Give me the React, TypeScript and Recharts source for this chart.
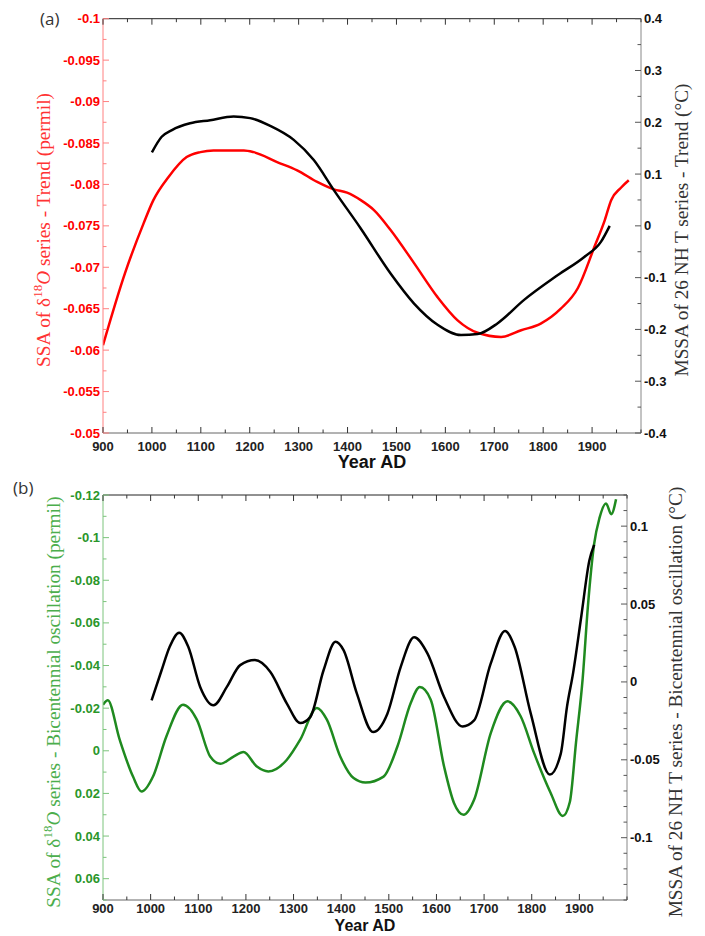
import React from 'react';
import { LineChart, Line, XAxis, YAxis } from 'recharts';

// (a) trend panel
const trendRedYears = [900, 945, 983, 1003, 1034, 1071, 1099, 1126, 1188, 1208, 1256, 1297, 1338, 1372, 1399, 1427, 1454, 1488, 1536, 1584, 1625, 1666, 1714, 1755, 1795, 1836, 1871, 1905, 1926, 1939, 1959, 1975];
const trendRedValues = [-0.0606, -0.0693, -0.0753, -0.0781, -0.0809, -0.0833, -0.0839, -0.0841, -0.0841, -0.0839, -0.0827, -0.0817, -0.0803, -0.0794, -0.079, -0.0781, -0.0769, -0.0745, -0.0705, -0.0664, -0.0636, -0.0621, -0.0616, -0.0624, -0.0632, -0.065, -0.0675, -0.0725, -0.0757, -0.0781, -0.0796, -0.0805];

const trendBlackYears = [1000, 1020, 1041, 1078, 1119, 1167, 1201, 1242, 1290, 1331, 1372, 1427, 1488, 1536, 1584, 1632, 1666, 1707, 1761, 1830, 1884, 1918, 1936];
const trendBlackValues = [0.142, 0.172, 0.185, 0.198, 0.204, 0.211, 0.208, 0.193, 0.166, 0.127, 0.069, -0.005, -0.092, -0.15, -0.191, -0.211, -0.209, -0.188, -0.143, -0.095, -0.06, -0.031, 0.0];

// (b) bicentennial oscillation panel
const osciGreenYears = [900, 910, 935, 963, 981, 1005, 1033, 1068, 1097, 1125, 1146, 1174, 1195, 1223, 1247, 1286, 1314, 1349, 1370, 1398, 1426, 1451, 1489, 1518, 1546, 1565, 1588, 1616, 1637, 1657, 1679, 1714, 1749, 1777, 1805, 1840, 1865, 1880, 1893, 1907, 1918, 1931, 1942, 1956, 1967, 1977];
const osciGreenValues = [-0.0216, -0.0237, -0.0052, 0.0121, 0.0191, 0.0121, -0.0067, -0.0216, -0.0146, 0.0027, 0.0061, 0.0027, 0.0006, 0.0074, 0.0097, 0.0042, -0.0052, -0.0201, -0.0146, 0.0027, 0.0128, 0.0149, 0.0121, -0.002, -0.0224, -0.0299, -0.024, 0.0074, 0.0246, 0.03, 0.023, -0.0083, -0.0232, -0.0161, 0.0011, 0.0199, 0.0306, 0.024, -0.004, -0.034, -0.068, -0.097, -0.109, -0.116, -0.111, -0.118];

const osciBlackYears = [1002, 1023, 1040, 1060, 1079, 1104, 1132, 1160, 1188, 1219, 1251, 1286, 1314, 1335, 1363, 1388, 1405, 1433, 1467, 1497, 1525, 1553, 1581, 1616, 1655, 1679, 1714, 1744, 1764, 1798, 1838, 1861, 1874, 1887, 1904, 1921, 1931];
const osciBlackValues = [-0.0118, 0.0075, 0.0226, 0.0316, 0.0226, -0.0032, -0.015, -0.0032, 0.0108, 0.014, 0.0065, -0.0139, -0.0264, -0.0226, 0.0075, 0.0258, 0.0204, -0.0075, -0.0322, -0.0204, 0.0097, 0.0286, 0.0183, -0.0097, -0.0286, -0.0247, 0.0119, 0.0327, 0.0226, -0.0204, -0.0595, -0.046, -0.016, 0.006, 0.042, 0.078, 0.088];

// ticks
const yearTicks = [900, 950, 1000, 1050, 1100, 1150, 1200, 1250, 1300, 1350, 1400, 1450, 1500, 1550, 1600, 1650, 1700, 1750, 1800, 1850, 1900, 1950, 2000];
const yearLabels = [900, 1000, 1100, 1200, 1300, 1400, 1500, 1600, 1700, 1800, 1900];

const trendLeftTicks = [-0.1, -0.0975, -0.095, -0.0925, -0.09, -0.0875, -0.085, -0.0825, -0.08, -0.0775, -0.075, -0.0725, -0.07, -0.0675, -0.065, -0.0625, -0.06, -0.0575, -0.055, -0.0525, -0.05];
const trendLeftLabels = [-0.1, -0.095, -0.09, -0.085, -0.08, -0.075, -0.07, -0.065, -0.06, -0.055, -0.05];
const trendRightTicks = [-0.4, -0.35, -0.3, -0.25, -0.2, -0.15, -0.1, -0.05, 0, 0.05, 0.1, 0.15, 0.2, 0.25, 0.3, 0.35, 0.4];
const trendRightLabels = [-0.4, -0.3, -0.2, -0.1, 0, 0.1, 0.2, 0.3, 0.4];

const osciLeftTicks = [-0.12, -0.11, -0.1, -0.09, -0.08, -0.07, -0.06, -0.05, -0.04, -0.03, -0.02, -0.01, 0, 0.01, 0.02, 0.03, 0.04, 0.05, 0.06, 0.07];
const osciLeftLabels = [-0.12, -0.1, -0.08, -0.06, -0.04, -0.02, 0, 0.02, 0.04, 0.06];
const osciRightTicks = [-0.14, -0.13, -0.12, -0.11, -0.1, -0.09, -0.08, -0.07, -0.06, -0.05, -0.04, -0.03, -0.02, -0.01, 0, 0.01, 0.02, 0.03, 0.04, 0.05, 0.06, 0.07, 0.08, 0.09, 0.1, 0.11, 0.12];
const osciRightLabels = [-0.1, -0.05, 0, 0.05, 0.1];

const zip = (xs: number[], ys: number[]) => xs.map((year, i) => ({ year, v: ys[i] }));

const SANS = '"Liberation Sans", Arial, sans-serif';
const SERIF = '"Liberation Serif", "Times New Roman", serif';
const RED = '#ff0000';
const GREEN = '#1f8a1f';

type Side = 'left' | 'right' | 'bottom' | 'top';

function makeTick(side: Side, labels: number[], lineColor: string, textColor: string, gap = 13) {
  return (props: any) => {
    const { x, y, payload } = props;
    const v = payload.value as number;
    const major = labels.some((l) => Math.abs(l - v) < 1e-9);
    const len = major ? 6 : 3.5;
    const label = major ? String(Math.round(v * 10000) / 10000) : '';
    const text = { fontFamily: SANS, fontSize: 13, fontWeight: 700, fill: textColor } as const;
    if (side === 'left') {
      return (
        <g>
          <line x1={x} y1={y} x2={x + len} y2={y} stroke={lineColor} />
          {label && <text x={x - 3} y={y} dy="0.35em" textAnchor="end" {...text}>{label}</text>}
        </g>
      );
    }
    if (side === 'right') {
      return (
        <g>
          <line x1={x} y1={y} x2={x - len} y2={y} stroke={lineColor} />
          {label && <text x={x + 3} y={y} dy="0.35em" textAnchor="start" {...text}>{label}</text>}
        </g>
      );
    }
    if (side === 'bottom') {
      return (
        <g>
          <line x1={x} y1={y} x2={x} y2={y - len} stroke={lineColor} />
          {label && <text x={x} y={y + gap} dy="0.35em" textAnchor="middle" {...text}>{label}</text>}
        </g>
      );
    }
    return (
      <g>
        <line x1={x} y1={y} x2={x} y2={y + len} stroke={lineColor} />
      </g>
    );
  };
}

function RotatedTitle({ cx, cy, color, rest, plain }: { cx: number; cy: number; color: string; rest: string; plain?: string }) {
  return (
    <text
      transform={`translate(${cx},${cy}) rotate(-90)`}
      textAnchor="middle"
      dominantBaseline="central"
      fontFamily={SERIF}
      fontSize={19.3}
      fill={color}
    >
      {plain ? (
        plain
      ) : (
        <>
          <tspan>SSA of δ</tspan>
          <tspan dy={-6} fontSize={13}>18</tspan>
          <tspan dy={6} fontStyle="italic">O</tspan>
          <tspan>{rest}</tspan>
        </>
      )}
    </text>
  );
}

export default function App() {
  return (
    <div style={{ position: 'absolute', left: 0, top: 0, width: 705, height: 936, background: '#fff' }}>
      <div style={{ position: 'absolute', left: 0, top: 0 }}>
        <LineChart width={705} height={480} margin={{ top: 17.7, right: 0, bottom: 0, left: 0 }}>
          <XAxis xAxisId="bottom" dataKey="year" type="number" domain={[900, 2000]} allowDataOverflow
            ticks={yearTicks} interval={0} tickSize={0} tickMargin={0} height={47}
            axisLine={{ stroke: '#666' }} tickLine={false} tick={makeTick('bottom', yearLabels, '#333', '#222')} />
          <XAxis xAxisId="top" orientation="top" dataKey="year" type="number" domain={[900, 2000]} allowDataOverflow
            ticks={yearTicks} interval={0} tickSize={0} tickMargin={0} height={1}
            axisLine={{ stroke: '#222' }} tickLine={false} tick={makeTick('top', yearLabels, '#333', '#222')} />
          <YAxis yAxisId="left" type="number" domain={[-0.1, -0.05]} reversed allowDataOverflow
            ticks={trendLeftTicks} interval={0} tickSize={0} tickMargin={0} width={103}
            axisLine={{ stroke: '#ff8080' }} tickLine={false} tick={makeTick('left', trendLeftLabels, '#ff8080', RED)} />
          <YAxis yAxisId="right" orientation="right" type="number" domain={[-0.4, 0.4]} allowDataOverflow
            ticks={trendRightTicks} interval={0} tickSize={0} tickMargin={0} width={64}
            axisLine={{ stroke: '#888' }} tickLine={false} tick={makeTick('right', trendRightLabels, '#555', '#111')} />
          <Line xAxisId="bottom" yAxisId="left" data={zip(trendRedYears, trendRedValues)} dataKey="v" type="monotone"
            stroke={RED} strokeWidth={2.5} dot={false} isAnimationActive={false} />
          <Line xAxisId="bottom" yAxisId="right" data={zip(trendBlackYears, trendBlackValues)} dataKey="v" type="monotone"
            stroke="#000" strokeWidth={2.5} dot={false} isAnimationActive={false} />
        </LineChart>
      </div>
      <div style={{ position: 'absolute', left: 0, top: 480 }}>
        <LineChart width={705} height={456} margin={{ top: 14, right: 0, bottom: 0, left: 0 }}>
          <XAxis xAxisId="bottom" dataKey="year" type="number" domain={[900, 2000]} allowDataOverflow
            ticks={yearTicks} interval={0} tickSize={0} tickMargin={0} height={36}
            axisLine={{ stroke: '#666' }} tickLine={false} tick={makeTick('bottom', yearLabels, '#333', '#222', 8.5)} />
          <XAxis xAxisId="top" orientation="top" dataKey="year" type="number" domain={[900, 2000]} allowDataOverflow
            ticks={yearTicks} interval={0} tickSize={0} tickMargin={0} height={1}
            axisLine={{ stroke: '#222' }} tickLine={false} tick={makeTick('top', yearLabels, '#333', '#222')} />
          <YAxis yAxisId="left" type="number" domain={[-0.12, 0.07]} reversed allowDataOverflow
            ticks={osciLeftTicks} interval={0} tickSize={0} tickMargin={0} width={103}
            axisLine={{ stroke: '#7cc47c' }} tickLine={false} tick={makeTick('left', osciLeftLabels, '#7cc47c', '#2a962a')} />
          <YAxis yAxisId="right" orientation="right" type="number" domain={[-0.14, 0.12]} allowDataOverflow
            ticks={osciRightTicks} interval={0} tickSize={0} tickMargin={0} width={78}
            axisLine={{ stroke: '#888' }} tickLine={false} tick={makeTick('right', osciRightLabels, '#555', '#111')} />
          <Line xAxisId="bottom" yAxisId="left" data={zip(osciGreenYears, osciGreenValues)} dataKey="v" type="monotone"
            stroke={GREEN} strokeWidth={2.5} dot={false} isAnimationActive={false} />
          <Line xAxisId="bottom" yAxisId="right" data={zip(osciBlackYears, osciBlackValues)} dataKey="v" type="monotone"
            stroke="#000" strokeWidth={2.5} dot={false} isAnimationActive={false} />
        </LineChart>
      </div>
      <svg width={705} height={936} style={{ position: 'absolute', left: 0, top: 0, pointerEvents: 'none' }}>
        <text x={40} y={25} fontFamily='"Open Sans", "DejaVu Sans", sans-serif' fontSize={17} fill="#333">(a)</text>
        <text x={13} y={494} fontFamily='"Open Sans", "DejaVu Sans", sans-serif' fontSize={17} fill="#333">(b)</text>
        <text x={372} y={468} textAnchor="middle" fontFamily={SANS} fontSize={18} fontWeight={700} fill="#111">Year AD</text>
        <text x={365} y={931} textAnchor="middle" fontFamily={SANS} fontSize={16} fontWeight={700} fill="#111">Year AD</text>
        <RotatedTitle cx={43} cy={230} color="#ff3333" rest=" series - Trend (permil)" />
        <RotatedTitle cx={681} cy={230} color="#333" rest="" plain="MSSA of 26 NH T series - Trend (°C)" />
        <RotatedTitle cx={53} cy={702} color="#4cae4c" rest=" series - Bicentennial oscillation (permil)" />
        <RotatedTitle cx={675} cy={702} color="#333" rest="" plain="MSSA of 26 NH T series - Bicentennial oscillation (°C)" />
      </svg>
    </div>
  );
}
